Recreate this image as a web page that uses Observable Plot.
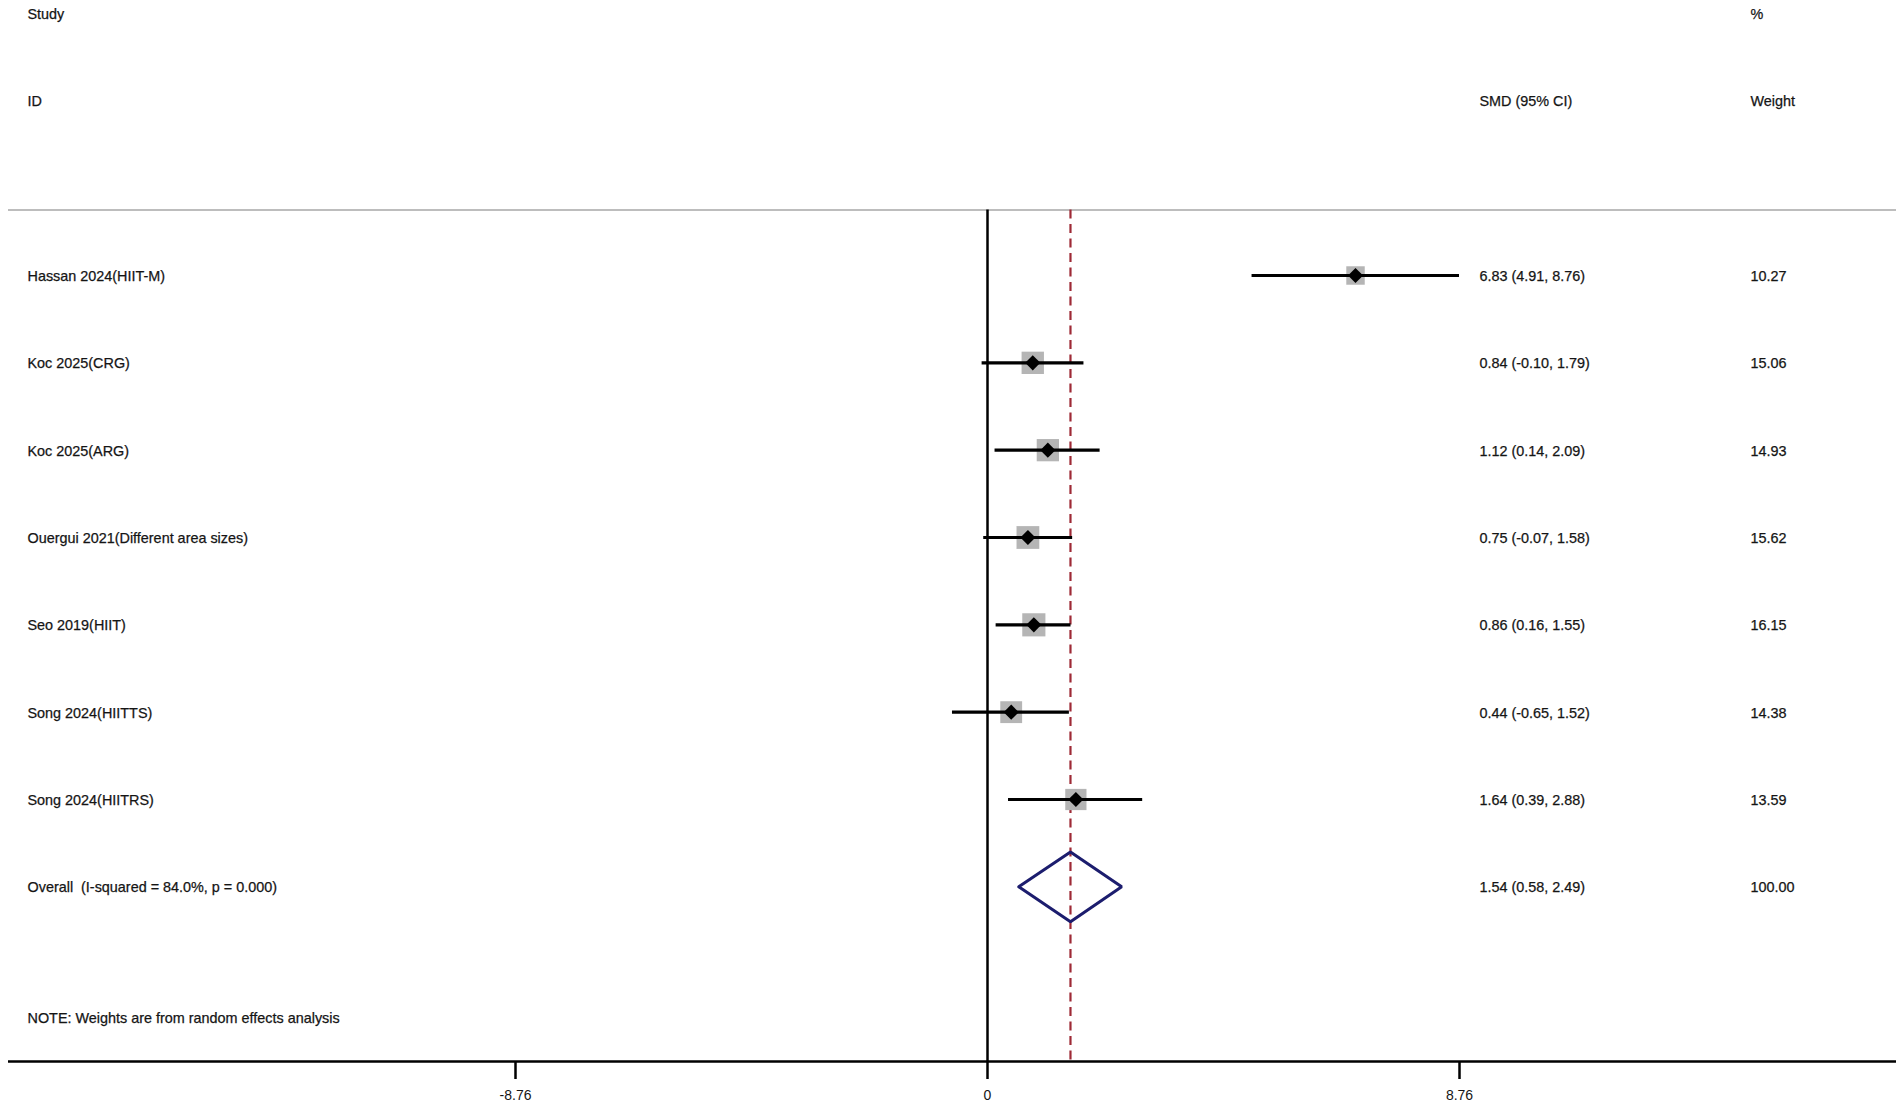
<!DOCTYPE html>
<html>
<head>
<meta charset="utf-8">
<script src="https://cdn.jsdelivr.net/npm/d3@7"></script>
<script src="https://cdn.jsdelivr.net/npm/@observablehq/plot@0.6"></script>
<style>
  html, body { margin: 0; padding: 0; background: #fff; }
  #chart svg { display: block; }
</style>
</head>
<body>
<div id="chart"></div>
<script>
// ---- data ----
const studies = [
  "Hassan 2024(HIIT-M)",
  "Koc 2025(CRG)",
  "Koc 2025(ARG)",
  "Ouergui 2021(Different area sizes)",
  "Seo 2019(HIIT)",
  "Song 2024(HIITTS)",
  "Song 2024(HIITRS)"
];
const smd     = [6.83, 0.84, 1.12, 0.75, 0.86, 0.44, 1.64];
const lower   = [4.91, -0.10, 0.14, -0.07, 0.16, -0.65, 0.39];
const upper   = [8.76, 1.79, 2.09, 1.58, 1.55, 1.52, 2.88];
const weights = [10.27, 15.06, 14.93, 15.62, 16.15, 14.38, 13.59];

const overallLabel  = "Overall  (I-squared = 84.0%, p = 0.000)";
const overallSmd    = 1.54;
const overallLower  = 0.58;
const overallUpper  = 2.49;
const overallWeight = 100.00;

const xTicks = [-8.76, 0, 8.76];
const noteText = "NOTE: Weights are from random effects analysis";
const studyHeaders  = ["Study", "ID"];
const ciHeaders     = ["", "SMD (95% CI)"];
const weightHeaders = ["%", "Weight"];

// ---- layout (pixels / row units) ----
const COL = {study: 27, ci: 1479, weight: 1750};
const ML = 8;
const ROW_STUDY = -3, ROW_ID = -2, ROW_SEP = -0.75, ROW_NOTE = 8.5, ROW_AXIS = 9;
const headerRows = [ROW_STUDY, ROW_ID];

const fmt = v => v.toFixed(2);
const rows = studies.map((s, i) => ({
  study: s, row: i, smd: smd[i], lo: lower[i], hi: upper[i], w: weights[i],
  ci: `${fmt(smd[i])} (${fmt(lower[i])}, ${fmt(upper[i])})`, wt: fmt(weights[i])
}));
const oRow = studies.length;
const overallRow = {
  study: overallLabel, row: oRow,
  ci: `${fmt(overallSmd)} (${fmt(overallLower)}, ${fmt(overallUpper)})`, wt: fmt(overallWeight)
};
const textRows = [...rows, overallRow];
const dh = 0.4;
const diamond = [
  {x: overallLower, y: oRow},
  {x: overallSmd, y: oRow - dh},
  {x: overallUpper, y: oRow},
  {x: overallSmd, y: oRow + dh},
  {x: overallLower, y: oRow}
];
const headers = headerRows.map((r, i) => ({row: r, study: studyHeaders[i], ci: ciHeaders[i], wt: weightHeaders[i]}));

const font = "'Liberation Sans', Arial, Helvetica, sans-serif";
const txt = {frameAnchor: "left", textAnchor: "start", lineAnchor: "middle", fontSize: 14.4, dy: 1, fill: "#151515", stroke: "#151515", strokeWidth: 0.25};

const chart = Plot.plot({
  width: 1902,
  height: 1109,
  marginLeft: ML,
  marginRight: 6,
  marginTop: 13,
  marginBottom: 48,
  style: {fontFamily: font, background: "#fff"},
  x: {domain: [-8.76, 8.76], range: [515, 1459]},
  y: {domain: [ROW_STUDY, ROW_AXIS], range: [13, 1061], axis: null},
  r: {type: "sqrt", domain: [0, 16], range: [0, 13]},
  marks: [
    // separator line
    Plot.ruleY([ROW_SEP], {stroke: "#bdbdbd", strokeWidth: 2}),
    // axis line
    Plot.ruleY([ROW_AXIS], {stroke: "#000", strokeWidth: 2.5}),
    // no-effect line
    Plot.ruleX([0], {y1: ROW_SEP, y2: ROW_AXIS, stroke: "#000", strokeWidth: 2.5}),
    // overall effect dashed line
    Plot.ruleX([overallSmd], {y1: ROW_SEP, y2: ROW_AXIS, stroke: "#9e2a36", strokeWidth: 2.2, strokeDasharray: "9,5.5"}),
    // weight boxes
    Plot.dot(rows, {x: "smd", y: "row", r: "w", symbol: "square", fill: "#b5b5b5", stroke: "none"}),
    // CI lines
    Plot.ruleY(rows, {y: "row", x1: "lo", x2: "hi", stroke: "#000", strokeWidth: 3.2}),
    // point estimates
    Plot.dot(rows, {x: "smd", y: "row", symbol: "diamond2", r: 6.8, fill: "#000", stroke: "none"}),
    // overall diamond
    Plot.line(diamond, {x: "x", y: "y", stroke: "#1c1d6e", strokeWidth: 3, strokeLinejoin: "miter"}),
    // headers
    Plot.text(headers, {...txt, y: "row", text: "study", dx: COL.study - ML}),
    Plot.text(headers, {...txt, y: "row", text: "ci", dx: COL.ci - ML}),
    Plot.text(headers, {...txt, y: "row", text: "wt", dx: COL.weight - ML}),
    // text columns
    Plot.text(textRows, {...txt, y: "row", text: "study", dx: COL.study - ML}),
    Plot.text(textRows, {...txt, y: "row", text: "ci", dx: COL.ci - ML}),
    Plot.text(textRows, {...txt, y: "row", text: "wt", dx: COL.weight - ML}),
    Plot.text([noteText], {...txt, y: () => ROW_NOTE, text: d => d, dx: COL.study - ML}),
    // x axis
    Plot.axisX({ticks: xTicks, tickFormat: d => d === 0 ? "0" : d.toFixed(2), tickSize: 18, tickPadding: 11, strokeWidth: 2.5, fontSize: 14, fill: "#151515", anchor: "bottom", label: null})
  ]
});
document.getElementById("chart").appendChild(chart);
</script>
</body>
</html>
